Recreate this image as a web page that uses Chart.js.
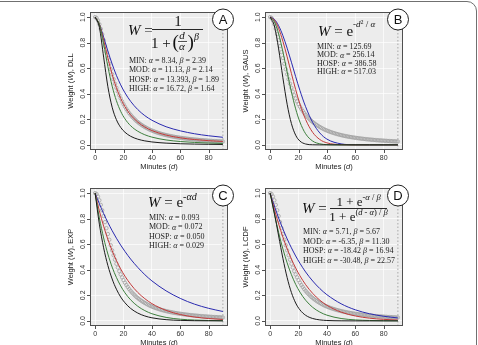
<!DOCTYPE html>
<html><head><meta charset="utf-8">
<script src="https://cdn.jsdelivr.net/npm/chart.js@4/dist/chart.umd.min.js"></script>
<style>
html,body{margin:0;padding:0;background:#fff;}
#wrap{position:relative;width:478px;height:345px;overflow:hidden;background:#fff;}
canvas{position:absolute;left:0;top:0;}
#frame{position:absolute;left:-12px;top:1px;width:489px;height:400px;box-sizing:border-box;border:1.5px solid #707070;border-radius:10px;}
</style></head><body>
<div id="wrap">
<div id="frame"></div>
<canvas id="cA" width="478" height="345"></canvas>
<canvas id="cB" width="478" height="345"></canvas>
<canvas id="cC" width="478" height="345"></canvas>
<canvas id="cD" width="478" height="345"></canvas>
</div>
<script>
// ---------- data ----------
const minutes = [0,3,6,9,12,15,18,21,25,30,35,40,50,60,70,80,90];
const xTicks = [0,20,40,60,80];
const yTicks = [0,0.2,0.4,0.6,0.8,1.0];
const yTickLabels = ['0.0','0.2','0.4','0.6','0.8','1.0'];
const seriesNames = ['MIN','MOD','HOSP','HIGH'];

const dllMin  = [1,0.920,0.687,0.455,0.295,0.197,0.137,0.0991,0.0676,0.0448,0.0314,0.0230,0.0137,0.0089,0.0062,0.0045,0.0034];
const dllMod  = [1,0.943,0.790,0.612,0.460,0.346,0.263,0.204,0.150,0.107,0.0793,0.0608,0.0386,0.0265,0.0192,0.0145,0.0113];
const dllHosp = [1,0.944,0.820,0.680,0.552,0.447,0.364,0.299,0.235,0.179,0.140,0.112,0.0766,0.0555,0.0420,0.0330,0.0266];
const dllHigh = [1,0.944,0.843,0.734,0.633,0.544,0.470,0.408,0.341,0.277,0.229,0.193,0.142,0.110,0.0872,0.0713,0.0595];

const gausMin  = [1,0.931,0.751,0.525,0.318,0.167,0.0759,0.0299,0.0069,0.0008,0.0001,0,0,0,0,0,0];
const gausMod  = [1,0.965,0.869,0.729,0.570,0.415,0.282,0.179,0.0872,0.0298,0.0084,0.0019,0.0001,0,0,0,0];
const gausHosp = [1,0.977,0.911,0.811,0.689,0.559,0.433,0.320,0.199,0.0975,0.0421,0.0159,0.0016,0.0001,0,0,0];
const gausHigh = [1,0.983,0.933,0.855,0.757,0.647,0.534,0.426,0.299,0.175,0.0935,0.0453,0.0079,0.0009,0.0001,0,0];

const expMin  = [1,0.757,0.572,0.433,0.328,0.248,0.187,0.142,0.0978,0.0614,0.0386,0.0242,0.0096,0.0038,0.0015,0.0006,0.0002];
const expMod  = [1,0.806,0.649,0.523,0.421,0.340,0.274,0.220,0.165,0.115,0.0805,0.0561,0.0273,0.0133,0.0065,0.0032,0.0015];
const expHosp = [1,0.861,0.741,0.638,0.549,0.472,0.407,0.350,0.287,0.223,0.174,0.135,0.0821,0.0498,0.0302,0.0183,0.0111];
const expHigh = [1,0.917,0.840,0.770,0.706,0.647,0.593,0.544,0.484,0.419,0.362,0.313,0.235,0.176,0.131,0.0983,0.0735];

const lcdfMin  = [1,0.843,0.665,0.490,0.339,0.222,0.140,0.0862,0.0440,0.0186,0.0078,0.0032,0.0006,0.0001,0,0,0];
const lcdfMod  = [1,0.838,0.691,0.563,0.454,0.362,0.286,0.225,0.162,0.106,0.0691,0.0448,0.0187,0.0078,0.0032,0.0013,0.0005];
const lcdfHosp = [1,0.873,0.759,0.656,0.565,0.484,0.414,0.353,0.284,0.215,0.162,0.122,0.0687,0.0384,0.0213,0.0119,0.0066];
const lcdfHigh = [1,0.899,0.805,0.720,0.642,0.572,0.508,0.451,0.383,0.312,0.253,0.205,0.134,0.0867,0.0560,0.0361,0.0232];

// observed weights, one per minute 0..90
const obsWeight = [1,0.993,0.973,0.944,0.908,0.866,0.820,0.773,0.726,0.680,
  0.635,0.592,0.552,0.514,0.479,0.447,0.417,0.389,0.364,0.341,
  0.319,0.299,0.281,0.265,0.249,0.235,0.222,0.210,0.199,0.188,
  0.179,0.170,0.162,0.154,0.147,0.140,0.134,0.128,0.122,0.117,
  0.112,0.108,0.103,0.0993,0.0955,0.0919,0.0885,0.0853,0.0822,0.0793,
  0.0766,0.0740,0.0715,0.0691,0.0669,0.0648,0.0627,0.0608,0.0590,0.0572,
  0.0555,0.0539,0.0524,0.0509,0.0494,0.0481,0.0468,0.0455,0.0443,0.0432,
  0.0420,0.0410,0.0400,0.0390,0.0380,0.0371,0.0362,0.0354,0.0346,0.0337,
  0.0330,0.0322,0.0315,0.0308,0.0302,0.0295,0.0289,0.0283,0.0277,0.0271,0.0266];
const obsMinutes = obsWeight.map((w, i) => i);

const refMinute = 90;

const dllParams  = ['MIN: α = 8.34, β = 2.39','MOD: α = 11.13, β = 2.14','HOSP: α = 13.393, β = 1.89','HIGH: α = 16.72, β = 1.64'];
const gausParams = ['MIN: α = 125.69','MOD: α = 256.14','HOSP: α = 386.58','HIGH: α = 517.03'];
const expParams  = ['MIN: α = 0.093','MOD: α = 0.072','HOSP: α = 0.050','HIGH: α = 0.029'];
const lcdfParams = ['MIN: α = 5.71, β = 5.67','MOD: α = -6.35, β = 11.30','HOSP: α = -18.42 β = 16.94','HIGH: α = -30.48, β = 22.57'];

// ---------- drawing helpers ----------
const SERIF = '"Liberation Serif","Times New Roman",serif';
const SANS = '"Liberation Sans",Arial,sans-serif';
const curveColors = ['#1c1c1c','#3d7f3d','#c23a3a','#2a2ab0'];
const F = (s, it) => (it ? 'italic ' : '') + s + 'px ' + SERIF;

function txt(ctx, s, x, y, font, align) {
  ctx.font = font; ctx.textAlign = align || 'left'; ctx.textBaseline = 'middle';
  ctx.fillText(s, x, y);
}
function rich(ctx, x, y, parts, align) {
  ctx.textBaseline = 'middle'; ctx.textAlign = 'left';
  let w = 0;
  parts.forEach(p => { ctx.font = p[1]; w += ctx.measureText(p[0]).width; });
  let cx = align === 'center' ? x - w / 2 : x;
  parts.forEach(p => { ctx.font = p[1]; ctx.fillText(p[0], cx, y + (p[2] || 0)); cx += ctx.measureText(p[0]).width; });
}
function greekParts(s, size) {
  return s.split(/([αβ])/).filter(t => t.length).map(t => [t, F(size, /[αβ]/.test(t))]);
}
function hline(ctx, x1, x2, y, w) {
  ctx.beginPath(); ctx.lineWidth = w || 0.9; ctx.strokeStyle = '#111';
  ctx.moveTo(x1, y); ctx.lineTo(x2, y); ctx.stroke();
}

function eqA(ctx) {
  rich(ctx, 128, 31.5, [['W', F(15, 1)], [' =', F(15)]]);
  txt(ctx, '1', 178, 22, F(15), 'center');
  hline(ctx, 152, 203, 29.5);
  txt(ctx, '1 +', 151, 44, F(15));
  txt(ctx, '(', 172.5, 43.5, F(19));
  txt(ctx, 'd', 182, 36.5, F(11, 1), 'center');
  hline(ctx, 178, 187, 41.5, 0.7);
  txt(ctx, 'α', 182, 47, F(11, 1), 'center');
  txt(ctx, ')', 187.5, 43.5, F(19));
  txt(ctx, 'β', 194, 37, F(10, 1));
}
function eqB(ctx) {
  rich(ctx, 318, 32, [['W', F(15, 1)], [' = ', F(15)], ['e', F(15)],
    ['-', F(9), -7], ['d', F(9, 1), -7], ['2', F(6), -10], [' / ', F(9), -7], ['α', F(9, 1), -7]]);
}
function eqC(ctx) {
  rich(ctx, 148, 203.5, [['W', F(15, 1)], [' = ', F(15)], ['e', F(15)],
    ['-', F(10), -6], ['αd', F(10, 1), -6]]);
}
function eqD(ctx) {
  rich(ctx, 302, 209, [['W', F(15, 1)], [' =', F(15)]]);
  rich(ctx, 358.5, 202.5, [['1 + e', F(13)], ['-', F(8.5), -5], ['α', F(8.5, 1), -5], [' / ', F(8.5), -5], ['β', F(8.5, 1), -5]], 'center');
  hline(ctx, 330, 387, 208.5);
  rich(ctx, 358.5, 217.5, [['1 + e', F(13)], ['(', F(8.5), -5], ['d', F(8.5, 1), -5], [' - ', F(8.5), -5], ['α', F(8.5, 1), -5], [') / ', F(8.5), -5], ['β', F(8.5, 1), -5]], 'center');
}

const panels = [
  { id: 'cA', pad: {left: 90, top: 12, right: 250, bottom: 195}, letter: 'A', ylab: 'DLL', curves: [dllMin, dllMod, dllHosp, dllHigh], params: dllParams, px: 129, py: 61, pdy: 9.3, psize: 8, eq: eqA },
  { id: 'cB', pad: {left: 265, top: 12, right: 75, bottom: 195}, letter: 'B', ylab: 'GAUS', curves: [gausMin, gausMod, gausHosp, gausHigh], params: gausParams, px: 317, py: 47, pdy: 8.4, psize: 8, eq: eqB },
  { id: 'cC', pad: {left: 90, top: 188, right: 250, bottom: 19}, letter: 'C', ylab: 'EXP', curves: [expMin, expMod, expHosp, expHigh], params: expParams, px: 149, py: 218, pdy: 9.4, psize: 8, eq: eqC },
  { id: 'cD', pad: {left: 265, top: 188, right: 75, bottom: 19}, letter: 'D', ylab: 'LCDF', curves: [lcdfMin, lcdfMod, lcdfHosp, lcdfHigh], params: lcdfParams, px: 303, py: 232, pdy: 9.5, psize: 8, eq: eqD },
];

const decor = {
  id: 'decor',
  beforeDraw(chart) {
    const {ctx, chartArea: a} = chart;
    ctx.save(); ctx.fillStyle = '#ececec';
    ctx.fillRect(a.left, a.top, a.right - a.left, a.bottom - a.top); ctx.restore();
  },
  afterDraw(chart, args, opts) {
    const p = opts.panel; const {ctx, chartArea: a} = chart;
    const xs = chart.scales.x, ys = chart.scales.y;
    ctx.save();
    ctx.strokeStyle = '#505050'; ctx.lineWidth = 1;
    ctx.strokeRect(a.left + 0.5, a.top + 0.5, a.right - a.left - 1, a.bottom - a.top - 1);
    ctx.beginPath();
    xTicks.forEach(v => { const x = Math.round(xs.getPixelForValue(v)) + 0.5; ctx.moveTo(x, a.bottom); ctx.lineTo(x, a.bottom + 3); });
    yTicks.forEach(v => { const y = Math.round(ys.getPixelForValue(v)) + 0.5; ctx.moveTo(a.left, y); ctx.lineTo(a.left - 3, y); });
    ctx.stroke();
    ctx.fillStyle = '#333';
    xTicks.forEach(v => txt(ctx, String(v), xs.getPixelForValue(v), a.bottom + 8.5, '7px ' + SANS, 'center'));
    yTicks.forEach((v, i) => {
      ctx.save(); ctx.translate(a.left - 7, ys.getPixelForValue(v)); ctx.rotate(-Math.PI / 2);
      txt(ctx, yTickLabels[i], 0, 0, '7px ' + SANS, 'center'); ctx.restore();
    });
    ctx.fillStyle = '#222';
    rich(ctx, (a.left + a.right) / 2, a.bottom + 16.5, [['Minutes (', '7.5px ' + SANS], ['d', 'italic 7.5px ' + SANS], [')', '7.5px ' + SANS]], 'center');
    ctx.save(); ctx.translate(a.left - 19.5, (a.top + a.bottom) / 2); ctx.rotate(-Math.PI / 2);
    rich(ctx, 0, 0, [['Weight (', '7.5px ' + SANS], ['W', 'italic 7.5px ' + SANS], ['), ' + p.ylab, '7.5px ' + SANS]], 'center');
    ctx.restore();
    ctx.beginPath(); ctx.arc(a.right - 5, a.top + 7.5, 10.5, 0, Math.PI * 2);
    ctx.fillStyle = '#fff'; ctx.fill(); ctx.lineWidth = 1; ctx.strokeStyle = '#222'; ctx.stroke();
    ctx.fillStyle = '#111';
    txt(ctx, p.letter, a.right - 5, a.top + 8, '13px ' + SANS, 'center');
    ctx.fillStyle = '#111';
    p.eq(ctx);
    ctx.fillStyle = '#222';
    p.params.forEach((s, i) => rich(ctx, p.px, p.py + i * p.pdy, greekParts(s, p.psize)));
    ctx.restore();
  }
};

panels.forEach(p => {
  const ds = p.curves.map((arr, k) => ({
    label: seriesNames[k],
    data: minutes.map((m, i) => ({x: m, y: arr[i]})),
    borderColor: curveColors[k], borderWidth: 1, pointRadius: 0,
    cubicInterpolationMode: 'monotone', fill: false
  }));
  ds.push({
    label: 'ref', data: [{x: refMinute, y: -0.04}, {x: refMinute, y: 1.04}],
    borderColor: '#a8a8a8', borderWidth: 1, borderDash: [1.5, 2], pointRadius: 0, fill: false
  });
  ds.push({
    label: 'observed', data: obsMinutes.map((m, i) => ({x: m, y: obsWeight[i]})),
    showLine: false, pointRadius: 1.7, pointBorderWidth: 0.8,
    pointBorderColor: '#a2a2a2', pointBackgroundColor: 'rgba(0,0,0,0)'
  });
  new Chart(document.getElementById(p.id), {
    type: 'line',
    data: {datasets: ds},
    options: {
      responsive: false, animation: false, events: [],
      layout: {padding: p.pad},
      plugins: {legend: {display: false}, tooltip: {enabled: false}, decor: {panel: p}},
      scales: {
        x: {type: 'linear', min: -3.6, max: 93.6,
            afterBuildTicks: ax => { ax.ticks = xTicks.map(v => ({value: v})); },
            ticks: {display: false}, border: {display: false},
            grid: {color: 'rgba(255,255,255,0.85)', lineWidth: 0.8, drawTicks: false}},
        y: {type: 'linear', min: -0.04, max: 1.04,
            afterBuildTicks: ax => { ax.ticks = yTicks.map(v => ({value: v})); },
            ticks: {display: false}, border: {display: false},
            grid: {color: 'rgba(255,255,255,0.85)', lineWidth: 0.8, drawTicks: false}}
      }
    },
    plugins: [decor]
  });
});
</script>
</body></html>
